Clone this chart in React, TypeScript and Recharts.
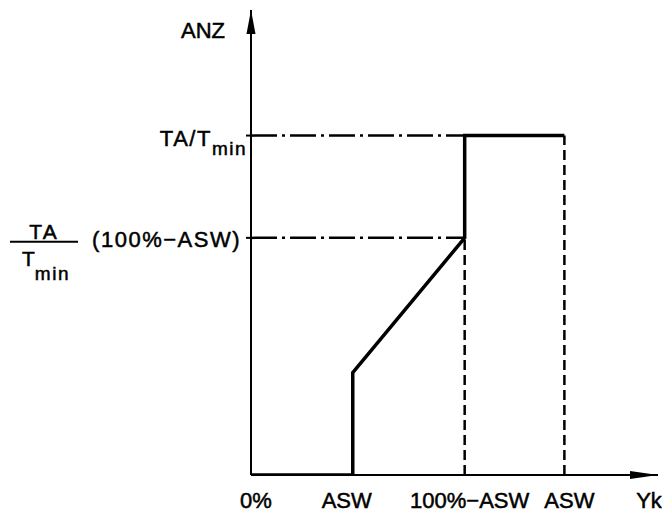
import React from 'react';
import { LineChart, Line, XAxis, YAxis, ReferenceLine, ReferenceDot } from 'recharts';

// Characteristic: display value ANZ over control signal Yk
const curveX = [0, 25, 25, 52.5, 52.5, 77];
const curveY = [0, 0, 22, 51, 73, 73];
const xTicks = [0, 25, 52.5, 77];
const xTickLabels = ['0%', 'ASW', '100%\u2212ASW', 'ASW'];
const yTicks = [51, 73];
const yLevelTop = 73; // TA/Tmin
const yLevelMid = 51; // TA/Tmin (100%-ASW)
const xKnee = 52.5; // 100%-ASW
const xEnd = 77; // ASW
const axisXLabel = 'Yk';
const axisYLabel = 'ANZ';

const data = curveX.map((x, i) => ({ x, y: curveY[i] }));

const FONT = '"Liberation Sans", Arial, sans-serif';
const tickDx = [5, -6, 5, 5];
const textInk = { fill: '#000', stroke: '#000', strokeWidth: 0.5 };

const XTick = (props: any) => {
  const { x, y, index } = props;
  return (
    <text x={x + tickDx[index]} y={y + 33} textAnchor="middle" fontSize={22} fontFamily={FONT} {...textInk}>
      {xTickLabels[index]}
    </text>
  );
};

const YTick = (props: any) => {
  const { x, y, payload } = props;
  if (payload.value === yLevelTop) {
    return (
      <text x={x + 1} y={y + 10} textAnchor="end" fontSize={22} fontFamily={FONT} {...textInk} letterSpacing={1.5}>
        <tspan>TA/T</tspan>
        <tspan dy={9} fontSize={19} letterSpacing={1.5}>min</tspan>
      </text>
    );
  }
  return (
    <g fontFamily={FONT} {...textInk}>
      <text x={x - 5} y={y + 9} textAnchor="end" fontSize={22} letterSpacing={1.5}>(100%{'\u2212'}ASW)</text>
      <line x1={10} x2={78} y1={y + 4} y2={y + 4} stroke="#000" strokeWidth={2} />
      <text x={44} y={y + 1} textAnchor="middle" fontSize={21} letterSpacing={2}>TA</text>
      <text x={22} y={y + 28} textAnchor="start" fontSize={21}>
        <tspan>T</tspan>
        <tspan dy={14} fontSize={19} letterSpacing={1.5}>min</tspan>
      </text>
    </g>
  );
};

const XArrow = (props: any) => {
  const { cx, cy } = props;
  return (
    <g>
      <polygon points={`${cx},${cy} ${cx - 28},${cy - 4} ${cx - 28},${cy + 4}`} fill="#000" />
      <text x={cx - 9} y={cy + 33} textAnchor="middle" fontSize={22} fontFamily={FONT} {...textInk}>{axisXLabel}</text>
    </g>
  );
};

const YArrow = (props: any) => {
  const { cx, cy } = props;
  return (
    <g>
      <polygon points={`${cx},${cy} ${cx - 4.5},${cy + 24} ${cx + 4.5},${cy + 24}`} fill="#000" />
      <text x={cx - 26} y={cy + 28} textAnchor="end" fontSize={22} fontFamily={FONT} {...textInk}>{axisYLabel}</text>
    </g>
  );
};

export default function App() {
  return (
    <div style={{ position: 'absolute', left: 0, top: 0, width: 662, height: 512, background: '#fff' }}>
      <LineChart width={662} height={512} data={data} margin={{ top: 10, right: 4, bottom: 7, left: 250 }}>
        <XAxis
          dataKey="x"
          type="number"
          domain={[0, 100]}
          ticks={xTicks}
          tick={<XTick />}
          tickLine={false}
          tickSize={0}
          tickMargin={0}
          height={30}
          axisLine={{ stroke: '#000', strokeWidth: 2 }}
          allowDataOverflow
        />
        <YAxis
          type="number"
          domain={[0, 100]}
          ticks={yTicks}
          tick={<YTick />}
          tickSize={5}
          tickMargin={0}
          tickLine={{ stroke: '#000', strokeWidth: 2 }}
          width={1}
          axisLine={{ stroke: '#000', strokeWidth: 2 }}
          allowDataOverflow
        />
        <ReferenceLine segment={[{ x: 0, y: yLevelTop }, { x: xKnee, y: yLevelTop }]} stroke="#000" strokeWidth={2.5} strokeDasharray="26 5 3 5" ifOverflow="visible" />
        <ReferenceLine segment={[{ x: 0, y: yLevelMid }, { x: xKnee, y: yLevelMid }]} stroke="#000" strokeWidth={2.5} strokeDasharray="26 5 3 5" ifOverflow="visible" />
        <ReferenceLine segment={[{ x: xKnee, y: 0 }, { x: xKnee, y: yLevelMid }]} stroke="#000" strokeWidth={2.5} strokeDasharray="10 5" ifOverflow="visible" />
        <ReferenceLine segment={[{ x: xEnd, y: 0 }, { x: xEnd, y: yLevelTop }]} stroke="#000" strokeWidth={2.5} strokeDasharray="10 5" ifOverflow="visible" />
        <Line type="linear" dataKey="y" stroke="#000" strokeWidth={3.5} dot={false} isAnimationActive={false} strokeLinejoin="miter" />
        <ReferenceDot x={100} y={0} r={0} shape={<XArrow />} ifOverflow="visible" />
        <ReferenceDot x={0} y={100} r={0} shape={<YArrow />} ifOverflow="visible" />
      </LineChart>
    </div>
  );
}
